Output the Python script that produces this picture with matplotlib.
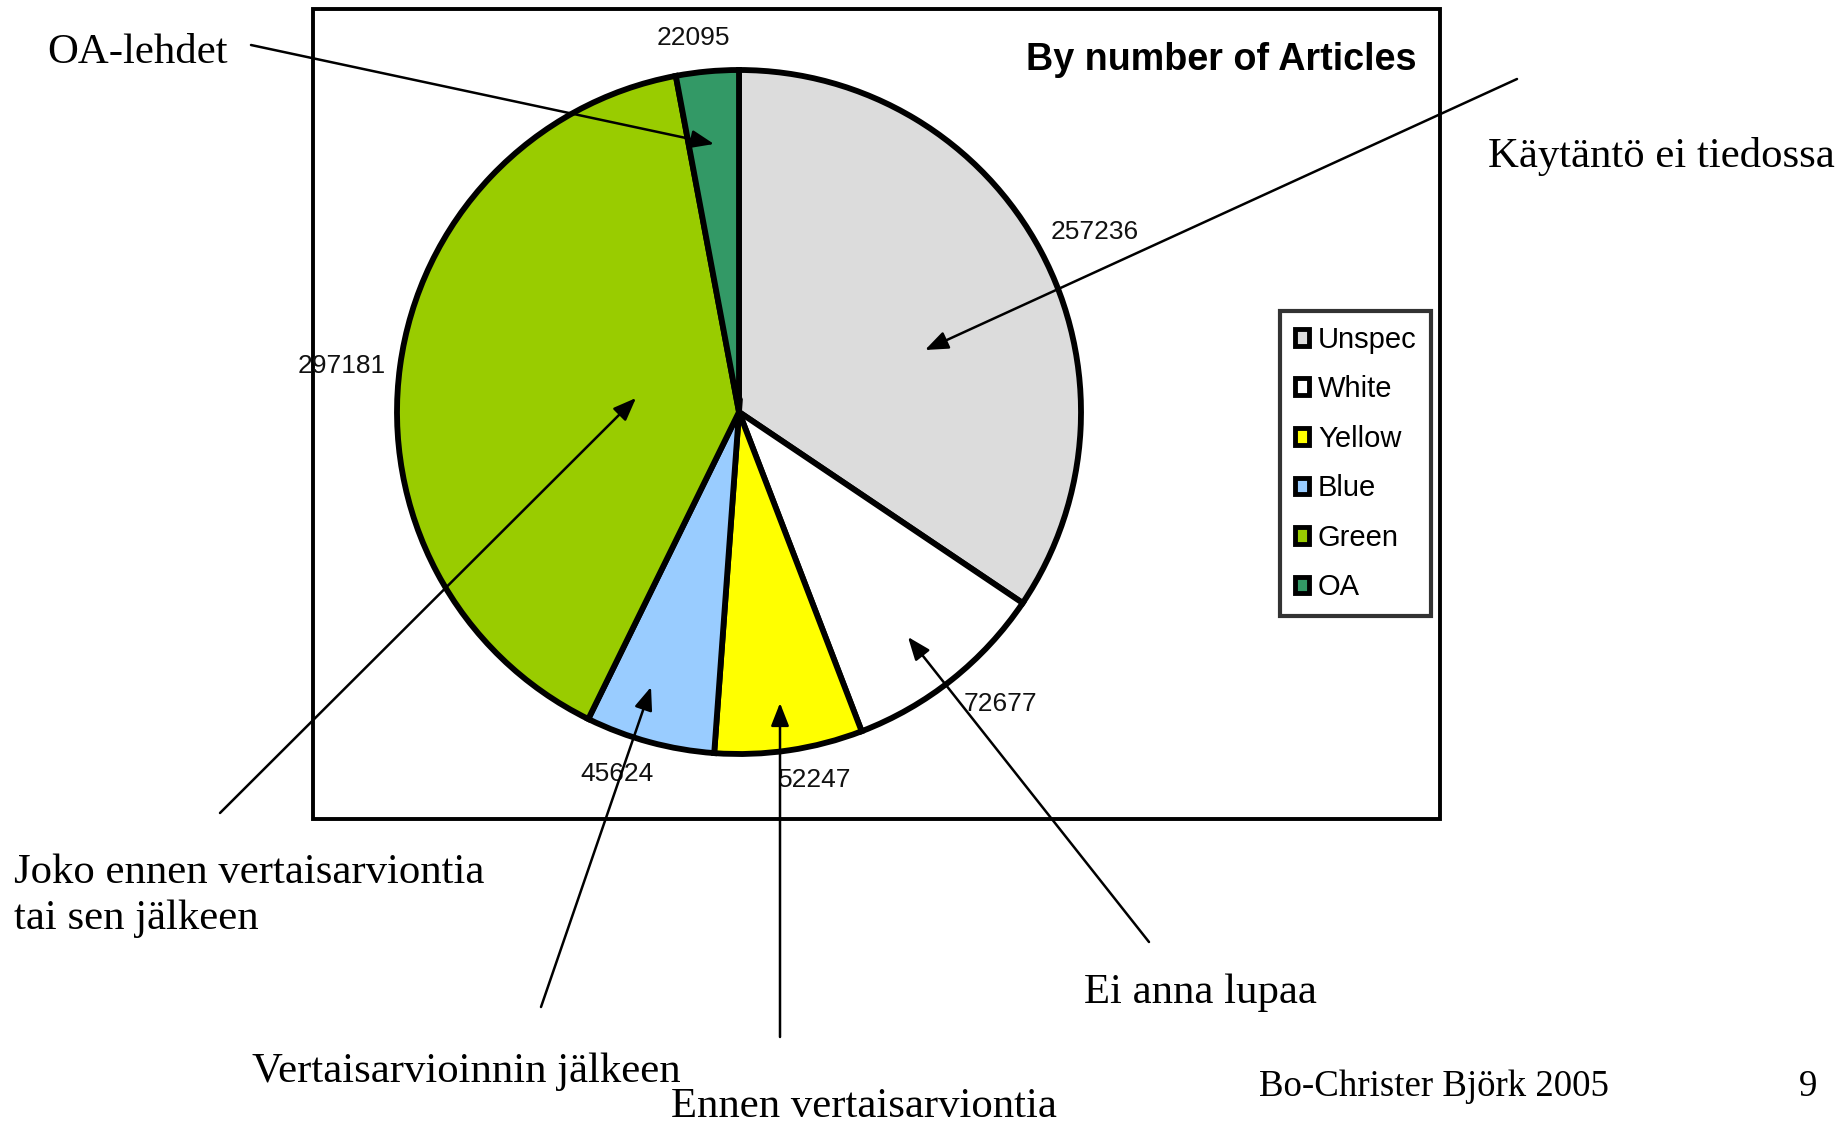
import matplotlib
matplotlib.use('Agg')
import matplotlib.pyplot as plt
from matplotlib.patches import Rectangle, Patch

W, H = 1847, 1126

categories = ['Unspec', 'White', 'Yellow', 'Blue', 'Green', 'OA']
values = [257236, 72677, 52247, 45624, 297181, 22095]
colors = ['#dcdcdc', '#ffffff', '#ffff00', '#99ccff', '#99cc00', '#339966']
title = 'By number of Articles'

annotations = ['Käytäntö ei tiedossa', 'Ei anna lupaa', 'Ennen vertaisarviontia',
               'Vertaisarvioinnin jälkeen', 'Joko ennen vertaisarviontia\ntai sen jälkeen',
               'OA-lehdet']
footer = 'Bo-Christer Björk 2005'
page = '9'


def Y(y):
    return H - y


fig = plt.figure(figsize=(W / 100, H / 100), dpi=100)
ax = fig.add_axes([0, 0, 1, 1])

cx, cy, r = 739, 412, 342
wedges, _ = ax.pie(values, colors=colors, startangle=90, counterclock=False,
                   center=(cx, Y(cy)), radius=r, frame=True,
                   wedgeprops=dict(edgecolor='black', linewidth=4.2))
ax.set_xlim(0, W)
ax.set_ylim(0, H)
ax.set_aspect('auto')
ax.axis('off')

# chart frame
ax.add_patch(Rectangle((313, Y(819)), 1440 - 313, 819 - 9, fill=False,
                       edgecolor='black', linewidth=2.8, zorder=0))

# title
ax.text(1416, Y(60), title, ha='right', va='center', fontsize=27.2,
        fontweight='bold', family='Liberation Sans')

# value labels
label_pos = [(1095, 232), (1000, 704), (815, 780), (617, 774), (342, 366), (693, 38)]
for v, (x, y) in zip(values, label_pos):
    ax.text(x, Y(y), str(v), ha='center', va='center', fontsize=19,
            family='Liberation Sans', color='#111111')

# legend
handles = [Patch(facecolor=c, edgecolor='black', linewidth=3.5) for c in colors]
leg = ax.legend(handles, categories, loc='upper left',
                bbox_to_anchor=(1280 / W, Y(311) / H), frameon=True,
                prop=dict(family='Liberation Sans', size=21),
                handlelength=0.5, handleheight=0.5, handletextpad=0.3,
                labelspacing=0.74, borderpad=0.5, borderaxespad=0,
                fancybox=False, edgecolor='black')
leg.get_frame().set_linewidth(3)

# annotations with arrows
serif = 'Liberation Serif'
text_pos = [(1488, 156), (1084, 993), (671, 1107),
            (252, 1072), (14, 896), (47, 53)]
arrows = [((1517, 79), (925, 350)), ((1149, 942), (908, 637)),
          ((780, 1037), (780, 703)), ((541, 1007), (651, 687)),
          ((220, 813), (636, 398)), ((251, 45), (714, 144))]
for txt, (x, y), (start, end) in zip(annotations, text_pos, arrows):
    ax.text(x, Y(y), txt, ha='left', va='center', fontsize=30.8, family=serif,
            linespacing=1.24)
    ax.annotate('', xy=(end[0], Y(end[1])), xytext=(start[0], Y(start[1])),
                arrowprops=dict(arrowstyle='-|>,head_length=1.4,head_width=0.55',
                                color='black', lw=1.8, shrinkA=0, shrinkB=0),
                zorder=5)

ax.text(1259, Y(1087), footer, ha='left', va='center', fontsize=26.6, family=serif)
ax.text(1799, Y(1087), page, ha='left', va='center', fontsize=26.6, family=serif)

fig.savefig('out.png', dpi=100, facecolor='white')
